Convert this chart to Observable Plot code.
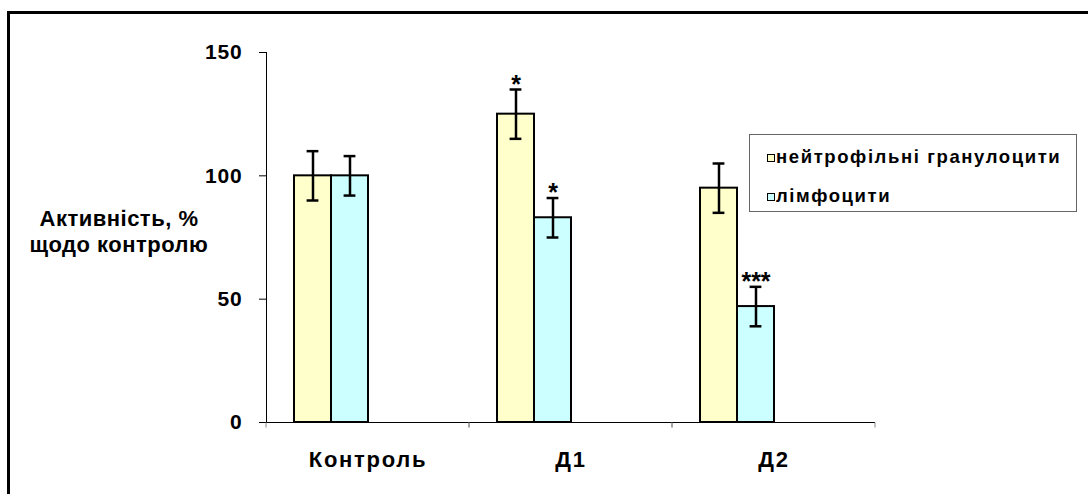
<!DOCTYPE html>
<html>
<head>
<meta charset="utf-8">
<script src="https://cdn.jsdelivr.net/npm/d3@7"></script>
<script src="https://cdn.jsdelivr.net/npm/@observablehq/plot@0.6"></script>
<style>
  body { margin: 0; background: #fff; }
  #wrap { position: relative; width: 1088px; height: 494px; overflow: hidden;
          font-family: "Liberation Sans", Arial, sans-serif; font-weight: bold; color: #000; }
  #frame { position: absolute; left: 7px; top: 11px; width: 1110px; height: 520px;
           border: 3px solid #000; box-sizing: border-box; }
  #chart { position: absolute; left: 0; top: 0; }
  #chart g[aria-label="y-axis tick label"] { font-size: 21px; letter-spacing: 0.8px; }
  #chart g[aria-label="fx-axis tick label"] { font-size: 22px; letter-spacing: 1.7px; }
  #ytitle { position: absolute; left: 19px; width: 200px; top: 206px; text-align: center;
            font-size: 22px; line-height: 26px; letter-spacing: 0.5px; white-space: nowrap; }
  #legend { position: absolute; left: 749px; top: 134px; width: 328px; height: 78px;
            border: 1px solid #666; box-sizing: border-box; background: #fff; font-size: 18.5px;
            letter-spacing: 1.6px; }
  .item { position: absolute; left: 17px; height: 20px; line-height: 20px; white-space: nowrap; }
  .sw { display: inline-block; width: 6px; height: 6px; border: 1.5px solid #000; margin-right: 1px;
        vertical-align: 1px; }
</style>
</head>
<body>
<div id="wrap">
  <div id="frame"></div>
  <div id="chart"></div>
  <div id="ytitle">Активність, %<br>щодо контролю</div>
  <div id="legend"></div>
</div>
<script>
// ---- data ----
const categories = ["Контроль", "Д1", "Д2"];
const series = ["нейтрофільні гранулоцити", "лімфоцити"];
const neutroValues = [100, 125, 95];
const neutroErrors = [10, 10, 10];
const neutroMarks = ["", "*", ""];
const lymphoValues = [100, 83, 47];
const lymphoErrors = [8, 8, 8];
const lymphoMarks = ["", "*", "***"];
const yTicks = [0, 50, 100, 150];
const colors = ["#FFFFCC", "#CCFFFF"];

const rows = [];
categories.forEach((c, i) => {
  rows.push({cat: c, series: series[0], value: neutroValues[i], err: neutroErrors[i], sig: neutroMarks[i]});
  rows.push({cat: c, series: series[1], value: lymphoValues[i], err: lymphoErrors[i], sig: lymphoMarks[i]});
});

function withBoundaryTicks(index, scales, values, dims, context, next) {
  const g = next(index, scales, values, dims, context);
  const line = g && g.querySelector("line");
  if (line) {
    const y = +line.getAttribute("y1");
    for (const a of ["x1", "x2"]) {
      const x = +line.getAttribute(a);
      const t = document.createElementNS("http://www.w3.org/2000/svg", "line");
      t.setAttribute("x1", x); t.setAttribute("x2", x);
      t.setAttribute("y1", y); t.setAttribute("y2", y + 5);
      t.setAttribute("stroke", "#888");
      line.parentNode.appendChild(t);
    }
  }
  return g;
}

const chart = Plot.plot({
  width: 1088,
  height: 494,
  marginLeft: 265,
  marginRight: 213,
  marginTop: 52,
  marginBottom: 72,
  facet: {marginTop: 0, marginBottom: 0, marginLeft: 0, marginRight: 0},
  style: {fontFamily: "'Liberation Sans', Arial, sans-serif", fontWeight: "bold", fontSize: "20px",
          background: "transparent", overflow: "visible", color: "#000"},
  fx: {domain: categories, padding: 0, label: null, tickSize: 0, tickPadding: 29},
  x: {domain: series, paddingInner: 0, paddingOuter: 1.725, align: 0.22, axis: null},
  y: {domain: [0, 150], ticks: yTicks, tickSize: 7, tickPadding: 17, line: true, label: null},
  color: {domain: series, range: colors},
  marks: [
    Plot.barY(rows, {fx: "cat", x: "series", y: "value", fill: "series", stroke: "#000", strokeWidth: 2, inset: 0}),
    Plot.ruleY([0], {stroke: "#000", render: withBoundaryTicks}),
    Plot.ruleX(rows, {fx: "cat", x: "series", y1: d => d.value - d.err, y2: d => d.value + d.err, stroke: "#000", strokeWidth: 2.5}),
    Plot.tickY(rows, {fx: "cat", x: "series", y: d => d.value - d.err, insetLeft: 12.6, insetRight: 12.6, stroke: "#000", strokeWidth: 2.5}),
    Plot.tickY(rows, {fx: "cat", x: "series", y: d => d.value + d.err, insetLeft: 12.6, insetRight: 12.6, stroke: "#000", strokeWidth: 2.5}),
    Plot.text(rows.filter(d => d.sig), {fx: "cat", x: "series", y: d => d.value + d.err, text: "sig",
      lineAnchor: "bottom", dy: 3, fontSize: 25, fontWeight: "bold"})
  ]
});
document.getElementById("chart").appendChild(chart);

// legend
const legend = document.getElementById("legend");
const tops = [12, 51];
series.forEach((s, i) => {
  const d = document.createElement("div");
  d.className = "item";
  d.style.top = tops[i] + "px";
  d.innerHTML = `<span class="sw" style="background:${colors[i]}"></span>${s}`;
  legend.appendChild(d);
});
</script>
</body>
</html>
